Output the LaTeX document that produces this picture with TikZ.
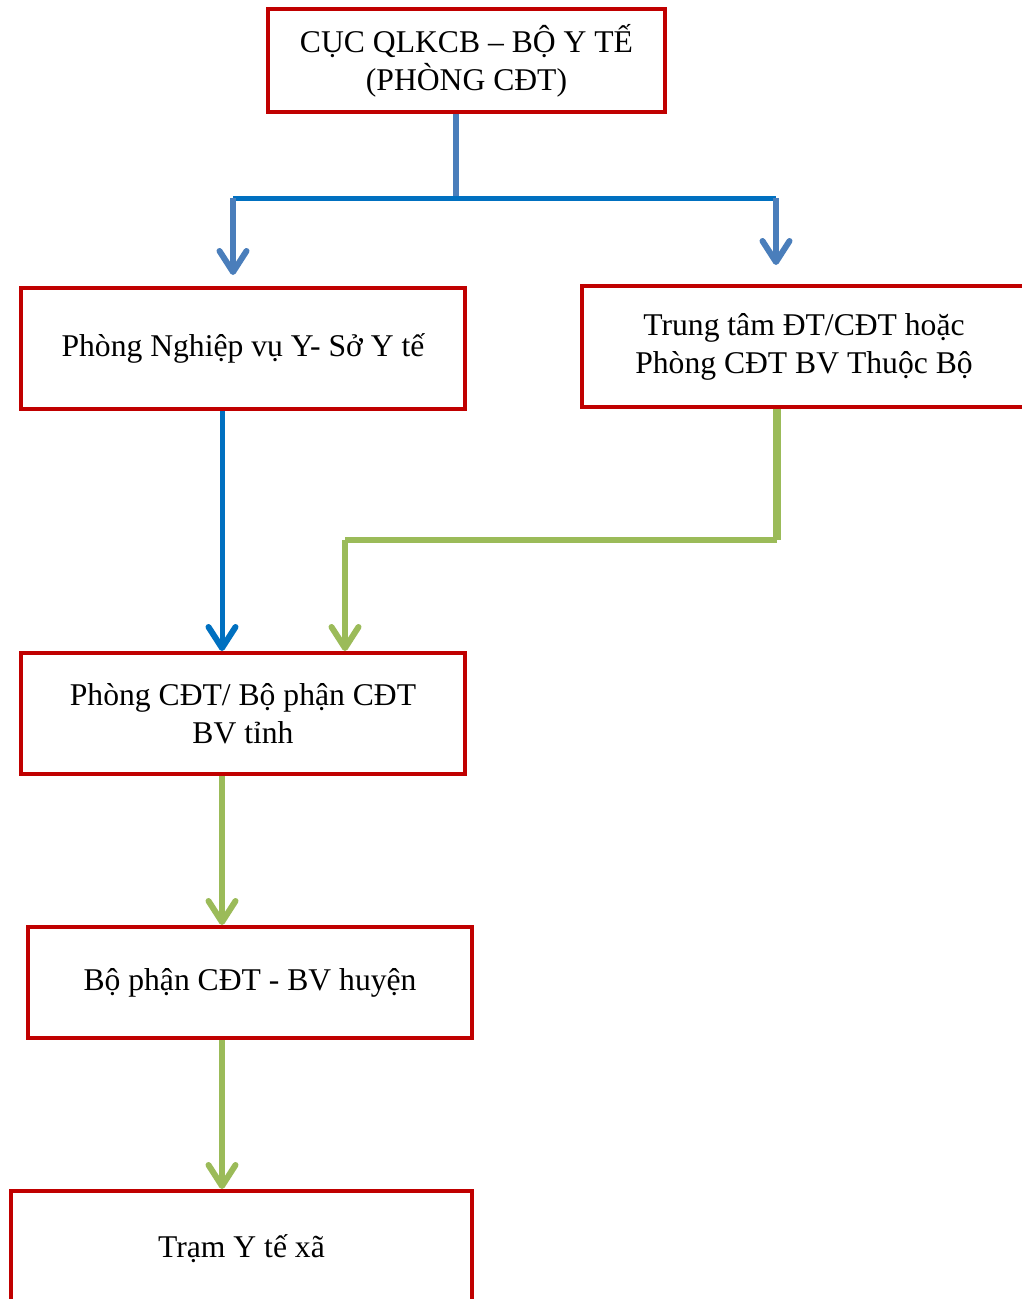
\documentclass[tikz,border=0pt]{standalone}
\usepackage{fontspec}
\setmainfont{Liberation Serif}
\usetikzlibrary{arrows.meta, positioning, calc}
\definecolor{boxred}{HTML}{C00000}
\definecolor{linkblue}{HTML}{0070C0}
\definecolor{steelblue}{HTML}{4A7EBB}
\definecolor{leafgreen}{HTML}{9BBB59}
\tikzset{
  unitbox/.style={draw=boxred, line width=0.08cm, align=center, inner sep=0pt,
    minimum width=8.88cm, minimum height=2.42cm,
    font=\fontsize{18}{21.6}\selectfont},
  tip/.style={-{Straight Barb[length=0.42cm, width=0.54cm, line width=0.12cm, line cap=round, line join=round]}},
  bluelink/.style={draw=linkblue, line width=0.1cm},
  steellink/.style={draw=steelblue, line width=0.12cm},
  greenlink/.style={draw=leafgreen, line width=0.11cm}
}
\begin{document}
\begin{tikzpicture}[>=stealth]
  \useasboundingbox (0,0) rectangle (20.44,-25.98);
  % units
  \node[unitbox, minimum width=7.94cm, minimum height=2.06cm] (cuc) at (9.33,-1.21)
    {CỤC QLKCB – BỘ Y TẾ\\(PHÒNG CĐT)};
  \node[unitbox] (so) at (4.86,-6.97) {Phòng Nghiệp vụ Y- Sở Y tế};
  \node[unitbox] (tt) at (16.08,-6.93) {Trung tâm ĐT/CĐT hoặc\\Phòng CĐT BV Thuộc Bộ};
  \node[unitbox] (tinh) at (4.86,-14.27) {Phòng CĐT/ Bộ phận CĐT\\BV tỉnh};
  \node[unitbox, minimum height=2.22cm] (huyen) at (5.00,-19.65) {Bộ phận CĐT - BV huyện};
  \node[unitbox, minimum width=9.22cm, minimum height=2.32cm] (xa) at (4.83,-24.98) {Trạm Y tế xã};
  % branch points
  \coordinate (split) at (9.12,-3.96);
  \coordinate (la) at (4.66,-5.50);
  \coordinate (ra) at (15.52,-5.30);
  \coordinate (lx) at (4.44,0);
  \coordinate (gx) at (15.54,-10.80);
  \coordinate (gy) at (6.90,-10.80);
  % links from the top
  \draw[steellink] (cuc.south -| split) -- (split);
  \draw[bluelink] (split -| la) -- (split -| ra);
  \draw[steellink, tip] (split -| la) -- (la);
  \draw[steellink, tip] (split -| ra) -- (ra);
  % links down the chain
  \draw[bluelink, tip] (so.south -| lx) -- (tinh.north -| lx);
  \draw[greenlink, line width=0.15cm] (tt.south -| gx) -- (gx);
  \draw[greenlink] (gx) -- (gy);
  \draw[greenlink, tip] (gy) -- (tinh.north -| gy);
  \draw[greenlink, tip] (tinh.south -| lx) -- (huyen.north -| lx);
  \draw[greenlink, tip] (huyen.south -| lx) -- (xa.north -| lx);
\end{tikzpicture}
\end{document}
